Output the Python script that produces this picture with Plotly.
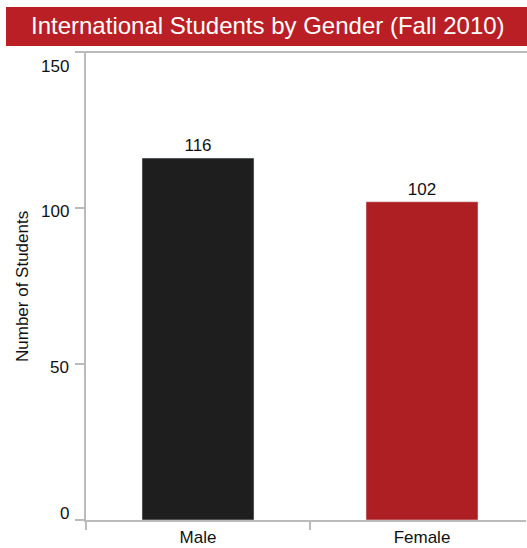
import plotly.graph_objects as go

categories = ["Male", "Female"]
students = [116, 102]
bar_colors = ["#1e1e1e", "#ae1f24"]
y_ticks = [0, 50, 100, 150]
y_tick_shift = [7, -3, -3, -14]
title_text = "International Students by Gender (Fall 2010)"
y_title = "Number of Students"

W, H = 527, 548
L, R, T, B = 86, 1, 52, 28
pw = W - L - R
ph = H - T - B
cat_px = 224  # pixel width of one category slot in the reference

def px_x(px):
    return (px - L) / pw

def px_y(py):
    return (H - B - py) / ph

fig = go.Figure()
fig.add_trace(go.Bar(
    x=categories, y=students, marker_color=bar_colors, width=0.5,
    text=[str(v) for v in students], textposition="outside",
    textfont=dict(size=17, color="#111111"), cliponaxis=False,
    hoverinfo="skip",
))

annotations = []
for v, s in zip(y_ticks, y_tick_shift):
    annotations.append(dict(
        x=px_x(71), xref="paper", y=v, yref="y", text=str(v), showarrow=False,
        xanchor="right", yanchor="middle", yshift=s,
        font=dict(size=17, color="#111111"),
    ))
annotations.append(dict(
    x=px_x(22), xref="paper", y=px_y(287), yref="paper", text=y_title,
    showarrow=False, textangle=-90, xanchor="center", yanchor="middle",
    font=dict(size=17, color="#111111"),
))
annotations.append(dict(
    x=px_x(268), xref="paper", y=px_y(26), yref="paper", text=title_text,
    showarrow=False, xanchor="center", yanchor="middle",
    font=dict(size=24, color="#ffffff"),
))

shapes = [
    dict(type="rect", xref="paper", yref="paper", x0=px_x(6), x1=px_x(527),
         y0=px_y(46), y1=px_y(7), fillcolor="#b91f24", line=dict(width=0), layer="below"),
    dict(type="line", xref="paper", yref="paper", x0=px_x(77), x1=px_x(527),
         y0=1, y1=1, line=dict(color="#bbbbbb", width=2)),
]

fig.update_layout(
    width=W, height=H,
    margin=dict(l=L, r=R, t=T, b=B),
    paper_bgcolor="white", plot_bgcolor="white",
    font=dict(family="Liberation Sans, Arial, sans-serif", color="#111111"),
    showlegend=False,
    annotations=annotations,
    shapes=shapes,
    xaxis=dict(
        range=[-0.5, -0.5 + pw / cat_px],
        showline=True, linecolor="#bbbbbb", linewidth=2,
        ticks="outside", tickson="boundaries", ticklen=8, tickcolor="#bbbbbb", tickwidth=2,
        tickfont=dict(size=17, color="#111111"), showgrid=False,
        ticklabelstandoff=1, automargin=False, fixedrange=True,
    ),
    yaxis=dict(
        range=[0, 150], tickvals=y_ticks, showticklabels=False,
        showline=True, linecolor="#bbbbbb", linewidth=2,
        ticks="outside", ticklen=9, tickcolor="#bbbbbb", tickwidth=2,
        showgrid=False, zeroline=False, automargin=False, fixedrange=True,
    ),
)

fig.write_html(
    "out.html",
    config={"displayModeBar": False},
    post_script="document.body.style.margin='0';document.body.style.overflow='hidden';",
)
